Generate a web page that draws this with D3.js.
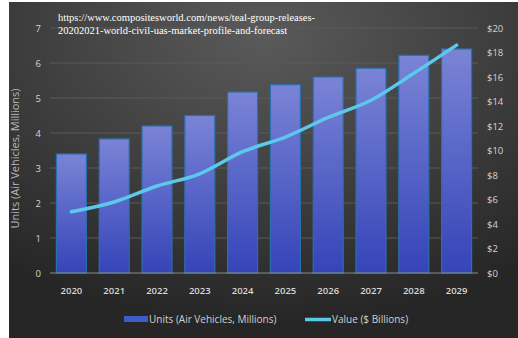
<!DOCTYPE html>
<meta charset="utf-8">
<script src="https://d3js.org/d3.v7.min.js"></script>
<style>
body { margin: 0; background: #fff; }
</style>
<body>
<div id="chart"></div>
<script>

// data
const years = ["2020","2021","2022","2023","2024","2025","2026","2027","2028","2029"];
const units = [3.4, 3.83, 4.2, 4.5, 5.17, 5.38, 5.6, 5.85, 6.22, 6.4];
const value = [5.0, 5.8, 7.1, 8.1, 9.9, 11.1, 12.7, 14.1, 16.3, 18.6];
const leftTicks = [0,1,2,3,4,5,6,7];
const rightTicks = [0,2,4,6,8,10,12,14,16,18,20];

const W = 518, H = 338;
const plot = {left: 50, right: 478, top: 28, bottom: 273};

const svg = d3.select("#chart").append("svg")
    .attr("width", W).attr("height", H);

const defs = svg.append("defs");
const bg = defs.append("radialGradient").attr("id", "bg")
    .attr("cx", "50%").attr("cy", "10%").attr("r", "85%");
bg.append("stop").attr("offset", "0%").attr("stop-color", "#5a5a5a");
bg.append("stop").attr("offset", "100%").attr("stop-color", "#262626");

const barGrad = defs.append("linearGradient").attr("id", "barg")
    .attr("x1", 0).attr("y1", 0).attr("x2", 0).attr("y2", 1);
barGrad.append("stop").attr("offset", "0%").attr("stop-color", "#7a84d6");
barGrad.append("stop").attr("offset", "100%").attr("stop-color", "#3544b8");

// background panel
svg.append("rect")
    .attr("x", 9).attr("y", 2)
    .attr("width", W - 9).attr("height", H - 2)
    .attr("fill", "url(#bg)");

// scales
const x = d3.scaleBand().domain(years)
    .range([plot.left, plot.right]).paddingInner(0.3).paddingOuter(0.15);
const y = d3.scaleLinear().domain([0, 7]).range([plot.bottom, plot.top]);
const y2 = d3.scaleLinear().domain([0, 20]).range([plot.bottom, plot.top]);

// gridlines
svg.append("g").selectAll("line")
  .data(leftTicks.slice(1))
  .join("line")
    .attr("x1", plot.left).attr("x2", plot.right)
    .attr("y1", d => y(d)).attr("y2", d => y(d))
    .attr("stroke", "#5a5a5a").attr("stroke-width", 1);

// bars
svg.append("g").selectAll("rect")
  .data(units)
  .join("rect")
    .attr("x", (d, i) => x(years[i]))
    .attr("y", d => y(d))
    .attr("width", x.bandwidth())
    .attr("height", d => plot.bottom - y(d))
    .attr("fill", "url(#barg)")
    .attr("stroke", "#2b6fae")
    .attr("stroke-width", 1.2);

// baseline
svg.append("line")
    .attr("x1", plot.left).attr("x2", plot.right)
    .attr("y1", plot.bottom).attr("y2", plot.bottom)
    .attr("stroke", "#8a8a8a").attr("stroke-width", 1.2);

// value line
const line = d3.line()
    .x((d, i) => x(years[i]) + x.bandwidth() / 2)
    .y(d => y2(d))
    .curve(d3.curveMonotoneX);
svg.append("path")
    .datum(value)
    .attr("d", line)
    .attr("fill", "none")
    .attr("stroke", "#5cc8ec")
    .attr("stroke-width", 3.5)
    .attr("stroke-linecap", "round");

const tickFont = "'Open Sans', 'DejaVu Sans', sans-serif";

// left axis
const yAxis = svg.append("g")
    .attr("transform", `translate(${plot.left},0)`)
    .call(d3.axisLeft(y).tickValues(leftTicks).tickSize(0).tickPadding(9)
      .tickFormat(d3.format("d")));
yAxis.select(".domain").remove();
yAxis.selectAll("text")
    .attr("fill", "#d4d4d4").style("font-family", tickFont).style("font-size", "9.5px");

// right axis
const yAxis2 = svg.append("g")
    .attr("transform", `translate(${plot.right},0)`)
    .call(d3.axisRight(y2).tickValues(rightTicks).tickSize(0).tickPadding(9)
      .tickFormat(d => "$" + d));
yAxis2.select(".domain").remove();
yAxis2.selectAll("text")
    .attr("fill", "#d4d4d4").style("font-family", tickFont).style("font-size", "9.5px");

// x axis
const xAxis = svg.append("g")
    .attr("transform", `translate(0,${plot.bottom})`)
    .call(d3.axisBottom(x).tickSize(0).tickPadding(14));
xAxis.select(".domain").remove();
xAxis.selectAll("text")
    .attr("fill", "#d8d8d8").style("font-family", tickFont).style("font-size", "9.5px")
    .style("font-weight", "600");

// left axis title
svg.append("text")
    .attr("transform", `translate(19,${(plot.top + plot.bottom) / 2 + 8}) rotate(-90)`)
    .attr("text-anchor", "middle")
    .attr("fill", "#b8b8b8")
    .style("font-family", tickFont).style("font-size", "11px")
    .text("Units (Air Vehicles, Millions)");

// source text
const src = svg.append("text")
    .attr("fill", "#ffffff")
    .style("font-family", "'Liberation Serif', 'DejaVu Serif', serif")
    .style("font-size", "10.5px");
src.append("tspan").attr("x", 58).attr("y", 21)
    .text("https://www.compositesworld.com/news/teal-group-releases-");
src.append("tspan").attr("x", 58).attr("y", 34)
    .text("20202021-world-civil-uas-market-profile-and-forecast");

// legend
const leg = svg.append("g").style("font-family", tickFont).style("font-size", "10px");
leg.append("rect")
    .attr("x", 124).attr("y", 316).attr("width", 24).attr("height", 6)
    .attr("fill", "#3f5bc8");
leg.append("text").attr("x", 149).attr("y", 323)
    .attr("fill", "#d0d0d0").text("Units (Air Vehicles, Millions)");
leg.append("line")
    .attr("x1", 305).attr("x2", 331).attr("y1", 319.5).attr("y2", 319.5)
    .attr("stroke", "#5cc8ec").attr("stroke-width", 3.5);
leg.append("text").attr("x", 332).attr("y", 323)
    .attr("fill", "#d0d0d0").text("Value ($ Billions)");

</script>
</body>
